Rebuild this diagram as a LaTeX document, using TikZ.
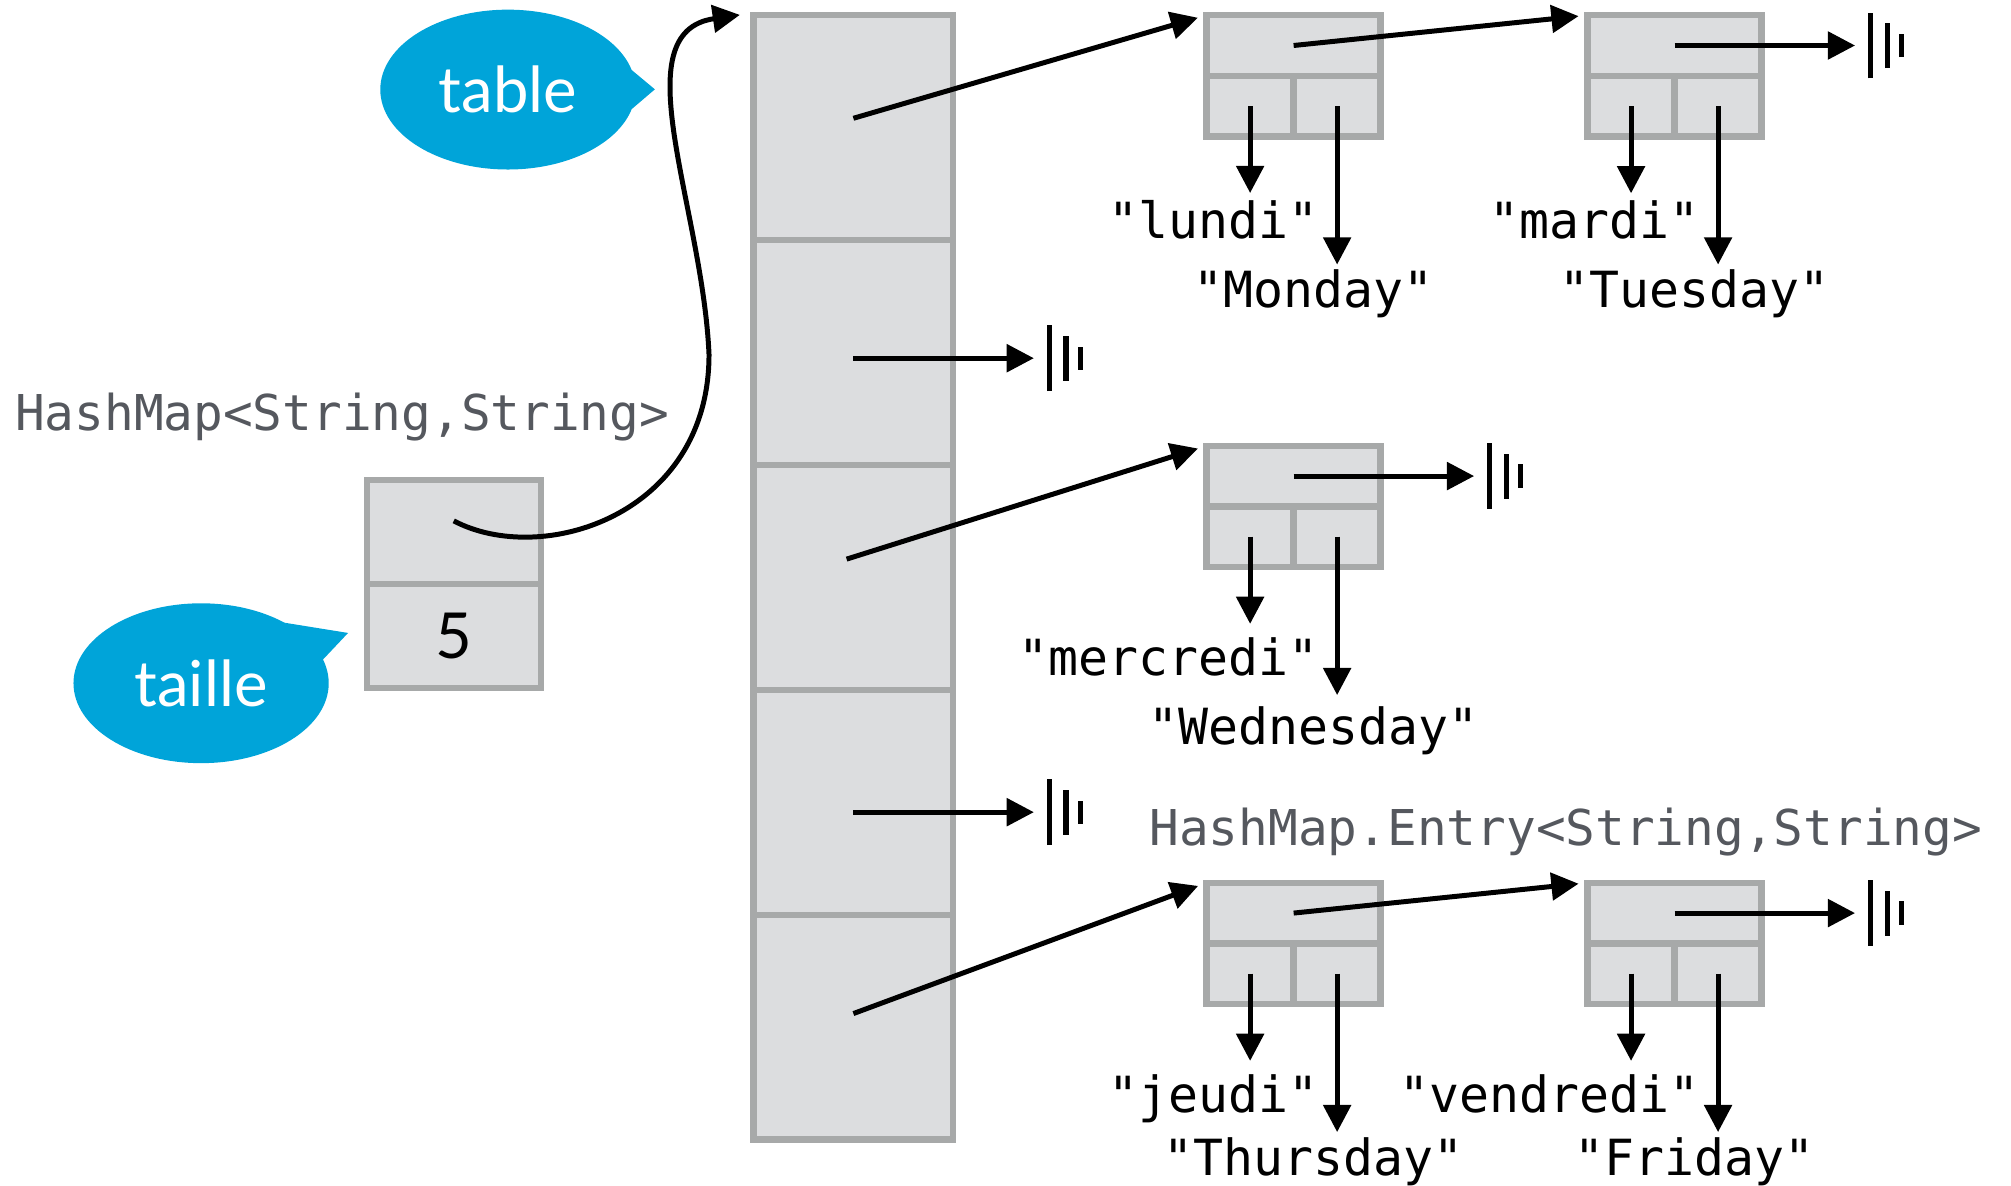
\documentclass[tikz,border=0pt]{standalone}
\usepackage{fontspec}
\setmainfont{Lato}
\setmonofont{DejaVu Sans Mono}
\usepackage{xcolor}
\usepackage{tikz}
\usetikzlibrary{positioning,calc,shapes.geometric,arrows.meta}

\definecolor{cellfill}{HTML}{DCDDDF}
\definecolor{cellline}{HTML}{A7A9A9}
\definecolor{bubblue}{HTML}{00A4D9}
\definecolor{typegray}{HTML}{55585E}

\tikzset{
    cell/.style={draw=cellline, fill=cellfill, line width=1.4pt, inner sep=0pt, outer sep=0pt},
    ptr/.style={-{Triangle[length=6pt,width=6pt]}, line width=1.1pt},
    bubble/.style={ellipse, fill=bubblue, text=white, minimum width=1.98cm, minimum height=1.24cm, inner sep=0pt, outer sep=0pt, font=\fontsize{14}{16}\selectfont},
    str/.style={font=\ttfamily\fontsize{11}{13}\selectfont, inner sep=0pt},
    typ/.style={str, text=typegray, font=\ttfamily\fontsize{10.9}{13}\selectfont},
    nullmark/.pic={\draw[line width=1.2pt] (0.12,-0.255) -- (0.12,0.255) (0.25,-0.175) -- (0.25,0.175) (0.36,-0.09) -- (0.36,0.09);}
}

\begin{document}
\begin{tikzpicture}
    \useasboundingbox (0,0) rectangle (15.6,9.193);

    % Table
    \foreach \i in {1,...,5}
        \node[cell, minimum width=1.55cm, minimum height=1.745cm] (t\i) at (6.62, {9.95-1.745*\i}) {};

    % HashMap object
    \node[cell, minimum width=1.35cm, minimum height=0.805cm] (h1) at (3.52,5.065) {};
    \node[cell, minimum width=1.35cm, minimum height=0.805cm, below=0pt of h1, font=\fontsize{14}{16}\selectfont] (h2) {5};
    \node[typ, anchor=base west] (maptype) at (0.11,5.853) {HashMap<String,String>};
    \node[typ, anchor=base west] (entrytype) at (8.91,2.638) {HashMap.Entry<String,String>};

    % Bubbles
    \node[bubble] (tablebub) at (3.94,8.498) {table};
    \fill[bubblue] (tablebub.9) -- (5.08,8.50) -- (tablebub.-9) -- cycle;
    \node[bubble] (taillebub) at (1.56,3.893) {taille};
    \fill[bubblue] (taillebub.36) -- (2.70,4.283) -- (taillebub.11) -- cycle;

    % Entries
    \foreach \n/\x/\y in {a/10.035/8.84, b/12.99/8.84, c/10.035/5.50, d/10.035/2.11, e/12.99/2.11} {
        \node[cell, minimum width=1.35cm, minimum height=0.47cm] (\n) at (\x,\y) {};
        \node[cell, minimum width=0.675cm, minimum height=0.47cm, anchor=north west] (k\n) at (\n.south west) {};
        \node[cell, minimum width=0.675cm, minimum height=0.47cm, anchor=north east] (v\n) at (\n.south east) {};
    }

    % Keys and values
    \foreach \n/\k/\v/\dk/\dv in {a/lundi/Monday/0/0, b/mardi/Tuesday/0/0, c/mercredi/Wednesday/0.05/0.05, d/jeudi/Thursday/0.05/0, e/vendredi/Friday/0.05/0} {
        \node[str, anchor=base east] (kl\n) at ($(\n.center)+(0.2025,-1.50-\dk)$) {"\k"};
        \node[str, anchor=base] (vl\n) at ($(\n.center)+(0.1575,-2.035-\dv)$) {"\v"};
        \draw[ptr, shorten >={1.5pt+\dk cm}] (k\n.center) -- (k\n.center |- kl\n.north);
        \draw[ptr, shorten >={1pt+\dv cm}] (v\n.center) -- (v\n.center |- vl\n.north);
    }

    % Links
    \draw[ptr] ([yshift=0.0875cm]h1.center) .. controls (4.20,4.793) and (5.50,5.193) .. (5.50,6.443)
        .. controls (5.45,7.593) and (4.82,8.943) .. ([xshift=-3pt]t1.north west);
    \draw[ptr, shorten >=2pt] ([yshift=2pt]t1.center) -- (a.north west);
    \draw[ptr, shorten >=2pt] (a.center) -- (b.north west);
    \draw[ptr, shorten >=2pt] ([xshift=-1.5pt,yshift=4pt]t3.center) -- (c.north west);
    \draw[ptr, shorten >=2pt] ([yshift=3pt]t5.center) -- (d.north west);
    \draw[ptr, shorten >=2pt] (d.center) -- (e.north west);

    % null
    \foreach \s/\dy in {b/0, t2/-1.3, c/0, t4/-2.2, e/0} {
        \draw[ptr] ([yshift=\dy pt]\s.center) -- ++(1.4,0) coordinate (nil\s);
        \pic at (nil\s) {nullmark};
    }
\end{tikzpicture}
\end{document}
